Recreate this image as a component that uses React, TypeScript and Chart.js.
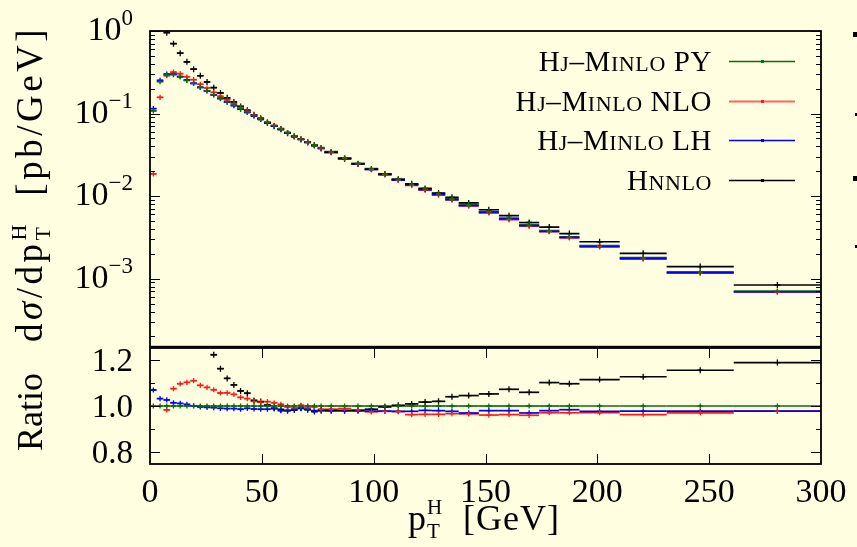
import React, { useEffect, useRef } from "react";
import { Chart, registerables } from "chart.js";

Chart.register(...registerables);

// ---------------- data ----------------
const binEdges = [
  0, 3, 6, 9, 12, 15, 18, 21, 24, 27, 30, 33, 36, 39, 42, 45, 48, 51, 54, 57, 60, 63, 66, 69, 72, 75, 78,
  84, 90, 96, 102, 108, 114, 120, 126, 132, 138,
  147, 156, 165, 174, 183, 192,
  210, 231, 261, 300,
];

const pyValues = [
  0.108, 0.244, 0.293, 0.296, 0.278, 0.253, 0.232, 0.208, 0.189, 0.169, 0.1535, 0.1385, 0.1264, 0.1146,
  0.104, 0.0945, 0.0859, 0.0775, 0.0711, 0.0654, 0.059, 0.0536, 0.0491, 0.0454, 0.0419, 0.0386, 0.0346,
  0.029, 0.025, 0.0215, 0.0186, 0.016, 0.014, 0.0122, 0.0107, 0.0093, 0.0079, 0.0065, 0.0054, 0.00452,
  0.00383, 0.00321, 0.00251, 0.0018, 0.00121, 0.000706,
];
const nloValues = [
  0.0186, 0.157, 0.288, 0.318, 0.305, 0.279, 0.257, 0.2265, 0.204, 0.181, 0.162, 0.1464, 0.1327, 0.1188,
  0.1073, 0.0964, 0.0874, 0.079, 0.0721, 0.0659, 0.0588, 0.0534, 0.0492, 0.0452, 0.0417, 0.0381, 0.0341,
  0.0287, 0.0246, 0.021, 0.0182, 0.0156, 0.0135, 0.0118, 0.0103, 0.009, 0.00763, 0.00625, 0.0052, 0.00434,
  0.00372, 0.00312, 0.00244, 0.00173, 0.00117, 0.00069,
];
const lhValues = [
  0.115, 0.252, 0.301, 0.3, 0.281, 0.255, 0.232, 0.207, 0.188, 0.168, 0.152, 0.137, 0.125, 0.113, 0.103,
  0.0933, 0.0847, 0.0764, 0.0703, 0.0641, 0.0579, 0.0528, 0.0486, 0.0448, 0.0411, 0.0379, 0.0339, 0.0284,
  0.0245, 0.021, 0.0182, 0.0156, 0.0137, 0.012, 0.0105, 0.00909, 0.00766, 0.00637, 0.00529, 0.00438,
  0.00375, 0.00316, 0.00245, 0.00176, 0.00118, 0.00069,
];
const nnloValues = [
  null, null, 0.954, 0.703, 0.539, 0.423, 0.345, 0.287, 0.241, 0.206, 0.178, 0.155, 0.138, 0.122, 0.1097,
  0.0968, 0.0875, 0.0778, 0.0704, 0.0644, 0.0578, 0.0527, 0.0486, 0.0447, 0.0409, 0.0378, 0.0339, 0.0284,
  0.0245, 0.0212, 0.0185, 0.016, 0.0141, 0.0124, 0.0109, 0.00967, 0.00826, 0.00684, 0.00579, 0.00479,
  0.00422, 0.00352, 0.0028, 0.00203, 0.0014, 0.000838,
];

const pyRatio = [
  1, 1, 1, 1, 1, 1, 1, 1, 1, 1, 1, 1, 1, 1, 1, 1, 1, 1, 1, 1, 1, 1, 1, 1, 1, 1, 1, 1, 1, 1, 1, 1, 1, 1, 1,
  1, 1, 1, 1, 1, 1, 1, 1, 1, 1, 1,
];
const nloRatio = [
  0.173, 0.643, 0.983, 1.075, 1.096, 1.102, 1.109, 1.089, 1.08, 1.07, 1.056, 1.057, 1.05, 1.037, 1.032,
  1.02, 1.017, 1.019, 1.014, 1.007, 0.996, 0.996, 1.003, 0.996, 0.996, 0.986, 0.986, 0.989, 0.983, 0.975,
  0.977, 0.976, 0.963, 0.964, 0.964, 0.967, 0.966, 0.961, 0.963, 0.96, 0.971, 0.971, 0.971, 0.963, 0.97,
  0.978,
];
const lhRatio = [
  1.069, 1.032, 1.026, 1.014, 1.011, 1.007, 1.001, 0.996, 0.994, 0.993, 0.99, 0.989, 0.989, 0.986, 0.99,
  0.987, 0.986, 0.986, 0.989, 0.98, 0.981, 0.986, 0.99, 0.986, 0.98, 0.983, 0.98, 0.98, 0.98, 0.978, 0.978,
  0.977, 0.977, 0.981, 0.98, 0.977, 0.97, 0.98, 0.98, 0.97, 0.98, 0.984, 0.977, 0.978, 0.978, 0.978,
];
const nnloRatio = [
  null, null, 3.26, 2.37, 1.94, 1.67, 1.49, 1.38, 1.28, 1.221, 1.161, 1.119, 1.091, 1.065, 1.055, 1.024,
  1.019, 1.004, 0.99, 0.985, 0.98, 0.983, 0.99, 0.984, 0.976, 0.98, 0.98, 0.98, 0.98, 0.986, 0.996, 1.003,
  1.009, 1.017, 1.02, 1.04, 1.045, 1.052, 1.072, 1.059, 1.101, 1.096, 1.114, 1.126, 1.154, 1.187,
];

const legendLabels = ["Hj–Minlo PY", "Hj–Minlo NLO", "Hj–Minlo LH", "Hnnlo"];
const seriesColors = ["#0b6e0b", "#ff1a1a", "#0000ff", "#000000"];

const logTickValues = [1, 0.1, 0.01, 0.001];
const logTickExponents = ["0", "−1", "−2", "−3"];
const ratioTickValues = [0.8, 0.9, 1.0, 1.1, 1.2];
const ratioTickLabels = ["0.8", "", "1.0", "", "1.2"];
const xTickValues = [0, 50, 100, 150, 200, 250, 300];
const xTickLabels = ["0", "50", "100", "150", "200", "250", "300"];

// ---------------- styling ----------------
const BG = "#fffee0";
const FONT = '"Liberation Serif", "DejaVu Serif", "Times New Roman", serif';
const font = (size: number, italic = false) => `${italic ? "italic " : ""}${size}px ${FONT}`;

type Piece = { t: string; size: number; dy?: number; italic?: boolean; sub?: string; subDy?: number };

function setLS(ctx: any, ls: number) {
  if ("letterSpacing" in ctx) ctx.letterSpacing = `${ls}px`;
}

function pieceWidth(ctx: CanvasRenderingContext2D, p: Piece) {
  ctx.font = font(p.size, p.italic);
  let w = ctx.measureText(p.t).width;
  if (p.sub) w = Math.max(w, ctx.measureText(p.sub).width);
  return w;
}

function drawPieces(
  ctx: CanvasRenderingContext2D,
  pieces: Piece[],
  x: number,
  y: number,
  align: string,
  ls = 0
) {
  setLS(ctx, ls);
  const total = pieces.reduce((s, p) => s + pieceWidth(ctx, p), 0);
  let cx = align === "left" ? x : align === "center" ? x - total / 2 : x - total;
  ctx.textAlign = "left";
  ctx.textBaseline = "alphabetic";
  for (const p of pieces) {
    const w = pieceWidth(ctx, p);
    ctx.font = font(p.size, p.italic);
    ctx.fillText(p.t, cx, y + (p.dy || 0));
    if (p.sub) ctx.fillText(p.sub, cx, y + (p.subDy || 0));
    cx += w;
  }
  setLS(ctx, 0);
}

function smallCaps(text: string, big: number, small: number): Piece[] {
  const out: Piece[] = [];
  for (const ch of text) {
    const isLower = ch !== ch.toUpperCase();
    const size = isLower ? small : big;
    const t = isLower ? ch.toUpperCase() : ch;
    const last = out[out.length - 1];
    if (last && last.size === size) last.t += t;
    else out.push({ t, size });
  }
  return out;
}

function hline(ctx: CanvasRenderingContext2D, x0: number, x1: number, y: number) {
  ctx.beginPath();
  ctx.moveTo(x0, y);
  ctx.lineTo(x1, y);
  ctx.stroke();
}
function vline(ctx: CanvasRenderingContext2D, x: number, y0: number, y1: number) {
  ctx.beginPath();
  ctx.moveTo(x, y0);
  ctx.lineTo(x, y1);
  ctx.stroke();
}

function makePoints(values: (number | null)[]) {
  return values.map((v, i) => ({
    x: (binEdges[i] + binEdges[i + 1]) / 2,
    y: v,
    lo: binEdges[i],
    hi: binEdges[i + 1],
  }));
}

function makeDatasets(arrays: (number | null)[][]) {
  return arrays.map((vals, k) => ({
    label: legendLabels[k],
    data: makePoints(vals),
    borderColor: seriesColors[k],
    backgroundColor: seriesColors[k],
    pointStyle: "cross",
    pointRadius: k === 3 ? 3 : 2.6,
    pointBorderWidth: 1.3,
    showLine: false,
    clip: 0,
  }));
}

// horizontal bin bars, drawn through the chart's own scales
const binBars = {
  id: "binBars",
  beforeDatasetsDraw(chart: any) {
    const { ctx, chartArea: a, scales } = chart;
    const xs = scales.x;
    const ys = scales.y;
    ctx.save();
    ctx.beginPath();
    ctx.rect(a.left, a.top, a.right - a.left, a.bottom - a.top);
    ctx.clip();
    chart.data.datasets.forEach((ds: any) => {
      ctx.strokeStyle = ds.borderColor;
      ctx.lineWidth = 1.7;
      ds.data.forEach((p: any) => {
        if (p.y == null) return;
        const py = ys.getPixelForValue(p.y);
        hline(ctx, xs.getPixelForValue(p.lo), xs.getPixelForValue(p.hi), py);
      });
    });
    ctx.restore();
  },
};

const topDecor = {
  id: "topDecor",
  afterDraw(chart: any) {
    const { ctx, chartArea: a, scales } = chart;
    const ys = scales.y;
    ctx.save();
    ctx.strokeStyle = "#000";
    ctx.lineWidth = 1;
    for (let d = -4; d <= 0; d++) {
      for (let m = 1; m <= 9; m++) {
        const v = m * Math.pow(10, d);
        if (v < ys.min * 0.999 || v > ys.max * 1.001) continue;
        const p = Math.round(ys.getPixelForValue(v)) + 0.5;
        const len = m === 1 ? 10 : 5;
        hline(ctx, a.left, a.left + len, p);
        hline(ctx, a.right - len, a.right, p);
      }
    }
    ctx.lineWidth = 1.8;
    ctx.strokeRect(a.left, a.top, a.right - a.left, a.bottom - a.top);

    ctx.fillStyle = "#000";
    logTickValues.forEach((v, i) => {
      const p = ys.getPixelForValue(v);
      drawPieces(ctx, [{ t: "10", size: 34 }, { t: logTickExponents[i], size: 23, dy: -15 }], 133, p + 9, "right");
    });

    // y-axis title
    ctx.save();
    ctx.translate(42, 184);
    ctx.rotate(-Math.PI / 2);
    drawPieces(
      ctx,
      [
        { t: "d", size: 37 },
        { t: "σ", size: 37, italic: true },
        { t: "/dp", size: 37 },
        { t: "H", size: 22, dy: -16, sub: "T", subDy: 8 },
        { t: "  [pb/GeV]", size: 37 },
      ],
      0,
      0,
      "center",
      3.5
    );
    ctx.restore();

    // legend
    const rows = [61, 101, 140, 180];
    legendLabels.forEach((lab, k) => {
      const y = rows[k];
      ctx.fillStyle = "#000";
      drawPieces(ctx, smallCaps(lab, 29, 22), 712, y + 10, "right", 0.6);
      ctx.strokeStyle = k === 1 ? "rgba(255,60,60,0.8)" : seriesColors[k];
      ctx.lineWidth = k === 1 ? 2 : 1.5;
      hline(ctx, 729, 795, y + 0.5);
      ctx.fillStyle = seriesColors[k];
      ctx.fillRect(761, y - 1, 3, 3);
    });

    // fragments of the neighbouring figure at the right edge
    ctx.fillStyle = "#000";
    ctx.fillRect(853, 32, 4, 5);
    ctx.fillRect(855, 113, 2, 3);
    ctx.fillRect(853, 176, 4, 5);
    ctx.fillRect(855, 245, 2, 3);
    ctx.restore();
  },
};

const botDecor = {
  id: "botDecor",
  afterDraw(chart: any) {
    const { ctx, chartArea: a, scales } = chart;
    const ys = scales.y;
    const xs = scales.x;
    ctx.save();
    ctx.strokeStyle = "#000";
    ctx.lineWidth = 1;
    ratioTickValues.forEach((v, i) => {
      const p = Math.round(ys.getPixelForValue(v)) + 0.5;
      const len = ratioTickLabels[i] ? 10 : 5;
      hline(ctx, a.left, a.left + len, p);
      hline(ctx, a.right - len, a.right, p);
    });
    xTickValues.forEach((v) => {
      if (v <= xs.min || v >= xs.max) return;
      const p = Math.round(xs.getPixelForValue(v)) + 0.5;
      vline(ctx, p, a.top, a.top + 10);
      vline(ctx, p, a.bottom - 10, a.bottom);
    });
    ctx.lineWidth = 1.8;
    ctx.strokeRect(a.left, a.top, a.right - a.left, a.bottom - a.top);

    ctx.fillStyle = "#000";
    ratioTickValues.forEach((v, i) => {
      if (!ratioTickLabels[i]) return;
      const p = ys.getPixelForValue(v);
      drawPieces(ctx, [{ t: ratioTickLabels[i], size: 33 }], 133, p + 11, "right");
    });
    xTickValues.forEach((v, i) => {
      const p = xs.getPixelForValue(v);
      drawPieces(ctx, [{ t: xTickLabels[i], size: 34 }], p, a.bottom + 38, "center");
    });

    // x-axis title
    drawPieces(
      ctx,
      [
        { t: "p", size: 36 },
        { t: "H", size: 21, dy: -16, sub: "T", subDy: 8 },
        { t: "  [GeV]", size: 36 },
      ],
      484,
      a.bottom + 66,
      "center",
      1
    );

    // ratio title
    ctx.save();
    ctx.translate(42, a.top + 64);
    ctx.rotate(-Math.PI / 2);
    drawPieces(ctx, [{ t: "Ratio", size: 36 }], 0, 0, "center");
    ctx.restore();
    ctx.restore();
  },
};

export default function App() {
  const topRef = useRef<HTMLCanvasElement>(null);
  const botRef = useRef<HTMLCanvasElement>(null);

  useEffect(() => {
    document.documentElement.style.background = BG;
    document.body.style.margin = "0";
    document.body.style.background = BG;

    const common = {
      animation: false,
      responsive: false,
      maintainAspectRatio: false,
      events: [],
      plugins: { legend: { display: false }, tooltip: { enabled: false } },
    };

    const top = new Chart(topRef.current as HTMLCanvasElement, {
      type: "scatter",
      data: { datasets: makeDatasets([pyValues, nloValues, lhValues, nnloValues]) as any },
      options: {
        ...common,
        layout: { padding: { left: 150, right: 36, top: 31, bottom: 4 } },
        scales: {
          x: { type: "linear", min: 0, max: 300, display: false },
          y: { type: "logarithmic", min: 1.5e-4, max: 1, display: false },
        },
      } as any,
      plugins: [binBars, topDecor],
    });

    const bot = new Chart(botRef.current as HTMLCanvasElement, {
      type: "scatter",
      data: { datasets: makeDatasets([pyRatio, nloRatio, lhRatio, nnloRatio]) as any },
      options: {
        ...common,
        layout: { padding: { left: 150, right: 36, top: 8, bottom: 83 } },
        scales: {
          x: { type: "linear", min: 0, max: 300, display: false },
          y: { type: "linear", min: 0.75, max: 1.25, display: false },
        },
      } as any,
      plugins: [binBars, botDecor],
    });

    return () => {
      top.destroy();
      bot.destroy();
    };
  }, []);

  return (
    <div style={{ position: "relative", width: 857, height: 547, background: BG, overflow: "hidden" }}>
      <canvas
        ref={topRef}
        width={857}
        height={352}
        style={{ position: "absolute", left: 0, top: 0, width: 857, height: 352 }}
      />
      <canvas
        ref={botRef}
        width={857}
        height={207}
        style={{ position: "absolute", left: 0, top: 340, width: 857, height: 207 }}
      />
    </div>
  );
}
